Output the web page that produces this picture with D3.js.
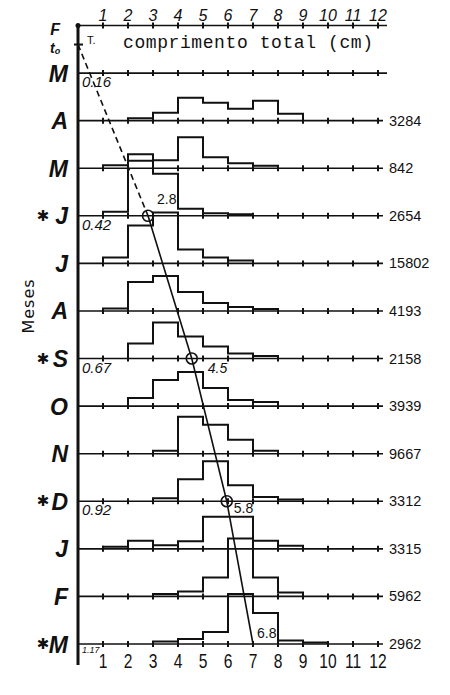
<!DOCTYPE html>
<html><head><meta charset="utf-8">
<script src="https://cdn.jsdelivr.net/npm/d3@7"></script>
<style>body{margin:0;background:#fff}</style>
</head><body>
<svg id="c" width="450" height="695" xmlns="http://www.w3.org/2000/svg"></svg>
<script>
// ---- data ----
const months = ["F","M","A","M","J","J","A","S","O","N","D","J","F","M"];
const starredRows = [4,7,10,13];
const lengthTicks = [1,2,3,4,5,6,7,8,9,10,11,12];
const sampleRows = [2,3,4,5,6,7,8,9,10,11,12,13];
const sampleSizes = ["3284","842","2654","15802","4193","2158","3939","9667","3312","3315","5962","2962"];
// relative frequency per 1 cm class (0-1, 1-2, ... 11-12)
const fAbr = [0,0,2.5,8,23,18,12,20,7,0,0,0];
const fMai = [0,3,14,8,31,11,5,2.5,0,0,0,0];
const fJun = [0,4,55,42,7,2.5,1.5,0,0,0,0,0];
const fJul = [0,6,38,51,14,6,3,0,0,0,0,0];
const fAgo = [0,2.5,29,35,19,8,4,2,0,0,0,0];
const fSet = [0,0,15,36,22,12,5,2.5,0,0,0,0];
const fOut = [0,0,8,26,34,18,6,4,0,0,0,0];
const fNov = [0,0,0,3,37,29,14,3,0,0,0,0];
const fDez = [0,0,0,3,22,40,16,4.3,1.7,0,0,0];
const fJan = [0,2,8,3.5,7.5,32,32,8,3,0,0,0];
const fFev = [0,0,0,2.3,5,19,58,19,4,0,0,0];
const fMar = [0,0,0,2.5,5,12,50,31,3.5,1.5,0,0];
const histRows = [2,3,4,5,6,7,8,9,10,11,12,13];
const histData = [fAbr,fMai,fJun,fJul,fAgo,fSet,fOut,fNov,fDez,fJan,fFev,fMar];
// growth curve
const t0Row = 0.4, t0Len = 0;
const growthRows = [4,7,10,13];
const growthLen = [2.8,4.55,5.95,7.0];
const growthLabels = ["2.8","4.5","5.8","6.8"];
const ageRows = [1,4,7,10,13];
const ageLabels = ["0.16","0.42","0.67","0.92","1.17"];

// ---- layout ----
const svg = d3.select("#c");
const x = d3.scaleLinear().domain([0,12]).range([78,378]);
const y = d3.scaleLinear().domain([0,13]).range([25.5,644]);
const h = d3.scaleLinear().domain([0,60]).range([0,60]);
const ink = "#111";
const sans = "Liberation Sans, Arial, sans-serif";

// baselines with ticks
const rows = d3.range(0,14);
rows.forEach(r=>{
  const yy = y(r);
  svg.append("line").attr("x1",x(0)).attr("x2", r<=1?387:383)
    .attr("y1",yy).attr("y2",yy).attr("stroke",ink).attr("stroke-width",1.6);
  svg.selectAll(null).data(lengthTicks).enter().append("line")
    .attr("x1",d=>x(d)).attr("x2",d=>x(d)).attr("y1",yy-3).attr("y2",yy+3)
    .attr("stroke",ink).attr("stroke-width",2);
});

// vertical axis
svg.append("line").attr("x1",x(0)).attr("x2",x(0)).attr("y1",y(0)-1).attr("y2",665)
  .attr("stroke",ink).attr("stroke-width",3);
svg.append("circle").attr("cx",x(0)).attr("cy",y(0)).attr("r",2.5).attr("fill",ink);
svg.append("line").attr("x1",x(0)-4).attr("x2",x(0)+5).attr("y1",y(t0Row)).attr("y2",y(t0Row))
  .attr("stroke",ink).attr("stroke-width",2);

// histograms
const line = d3.line().x(d=>x(d[0])).y(d=>d[1]);
histData.forEach((vals,k)=>{
  const base = y(histRows[k]);
  const idx = vals.map((v,i)=>v>0?i:-1).filter(i=>i>=0);
  const first = idx[0], last = idx[idx.length-1];
  const pts = [[first, base]];
  for(let i=first;i<=last;i++){
    pts.push([i, base-h(vals[i])]);
    pts.push([i+1, base-h(vals[i])]);
  }
  pts.push([last+1, base]);
  svg.append("path").attr("d",line(pts)).attr("fill","none")
    .attr("stroke",ink).attr("stroke-width",2).attr("stroke-linejoin","miter");
});

// growth curve
svg.append("line").attr("x1",x(t0Len)).attr("y1",y(t0Row))
  .attr("x2",x(growthLen[0])).attr("y2",y(growthRows[0]))
  .attr("stroke",ink).attr("stroke-width",1.6).attr("stroke-dasharray","6,4");
const gpts = growthLen.map((l,i)=>[l, y(growthRows[i])]);
svg.append("path").attr("d",line(gpts)).attr("fill","none").attr("stroke",ink).attr("stroke-width",1.6);
svg.selectAll(null).data(gpts.slice(0,3)).enter().append("circle")
  .attr("cx",d=>x(d[0])).attr("cy",d=>d[1]).attr("r",5.5)
  .attr("fill","none").attr("stroke",ink).attr("stroke-width",1.6);
const gOff = [[9,-12],[16,14],[7,12],[4,-6]];
svg.selectAll(null).data(gpts).enter().append("text")
  .attr("x",(d,i)=>x(d[0])+gOff[i][0]).attr("y",(d,i)=>d[1]+gOff[i][1])
  .attr("font-family",sans).attr("font-size",14)
  .attr("font-style",(d,i)=>i==1?"italic":"normal")
  .attr("fill",ink).text((d,i)=>growthLabels[i]);

// age labels
svg.selectAll(null).data(ageRows).enter().append("text")
  .attr("x",82).attr("y",(d,i)=>y(d)+(i==4?9:14))
  .attr("font-family",sans).attr("font-style","italic")
  .attr("font-size",(d,i)=>i==4?9:15).attr("fill",ink).text((d,i)=>ageLabels[i]);

// month labels
rows.forEach(r=>{
  if(r===0){
    svg.append("text").attr("x",60).attr("y",35).attr("text-anchor","end")
      .attr("font-family",sans).attr("font-weight","bold")
      .attr("font-style","italic").attr("font-size",16).attr("fill",ink).text(months[0]);
    const t = svg.append("text").attr("x",50).attr("y",53)
      .attr("font-family",sans).attr("font-weight","bold")
      .attr("font-style","italic").attr("font-size",14).attr("fill",ink);
    t.append("tspan").text("t");
    t.append("tspan").attr("font-size",9).attr("dy",1).text("o");
    return;
  }
  svg.append("text").attr("x",68).attr("y",y(r)+8.5).attr("text-anchor","end")
    .attr("font-family",sans).attr("font-weight","bold")
    .attr("font-style","italic").attr("font-size",23).attr("fill",ink).text(months[r]);
  if(starredRows.includes(r)){
    svg.append("text").attr("x",43).attr("y",y(r)+5).attr("text-anchor","middle")
      .attr("font-family","DejaVu Sans, sans-serif").attr("font-size",15)
      .attr("fill",ink).text("\u2731");
  }
});

// top tick labels
svg.selectAll(null).data(lengthTicks).enter().append("text")
  .attr("x",d=>x(d)).attr("y",21).attr("text-anchor","middle")
  .attr("font-family",sans).attr("font-style","italic")
  .attr("font-size",16).attr("fill",ink).text(d=>d);
// bottom tick labels (narrow, tall)
const bottomG = svg.append("g").attr("transform","scale(0.78,1)");
bottomG.selectAll(null).data(lengthTicks).enter().append("text")
  .attr("x",d=>x(d)/0.78).attr("y",668).attr("text-anchor","middle")
  .attr("font-family",sans)
  .attr("font-size",20).attr("fill",ink).text(d=>d);

// sample sizes
svg.selectAll(null).data(sampleRows).enter().append("text")
  .attr("x",389).attr("y",d=>y(d)+5)
  .attr("font-family",sans).attr("font-size",14.5)
  .attr("fill",ink).text((d,i)=>sampleSizes[i]);

// titles
svg.append("text").attr("x",123).attr("y",48).attr("textLength",250).attr("lengthAdjust","spacing")
  .attr("font-family","Liberation Mono, DejaVu Sans Mono, monospace").attr("font-size",18)
  .attr("fill",ink).text("comprimento total (cm)");
svg.append("text").attr("x",87).attr("y",44)
  .attr("font-family",sans).attr("font-size",11)
  .attr("fill",ink).text("T.");
svg.append("text").attr("transform","translate(34,306) rotate(-90)").attr("text-anchor","middle")
  .attr("font-family","DejaVu Sans, sans-serif").attr("font-size",16).attr("letter-spacing",1)
  .attr("fill",ink).text("Meses");
</script>
</body></html>
